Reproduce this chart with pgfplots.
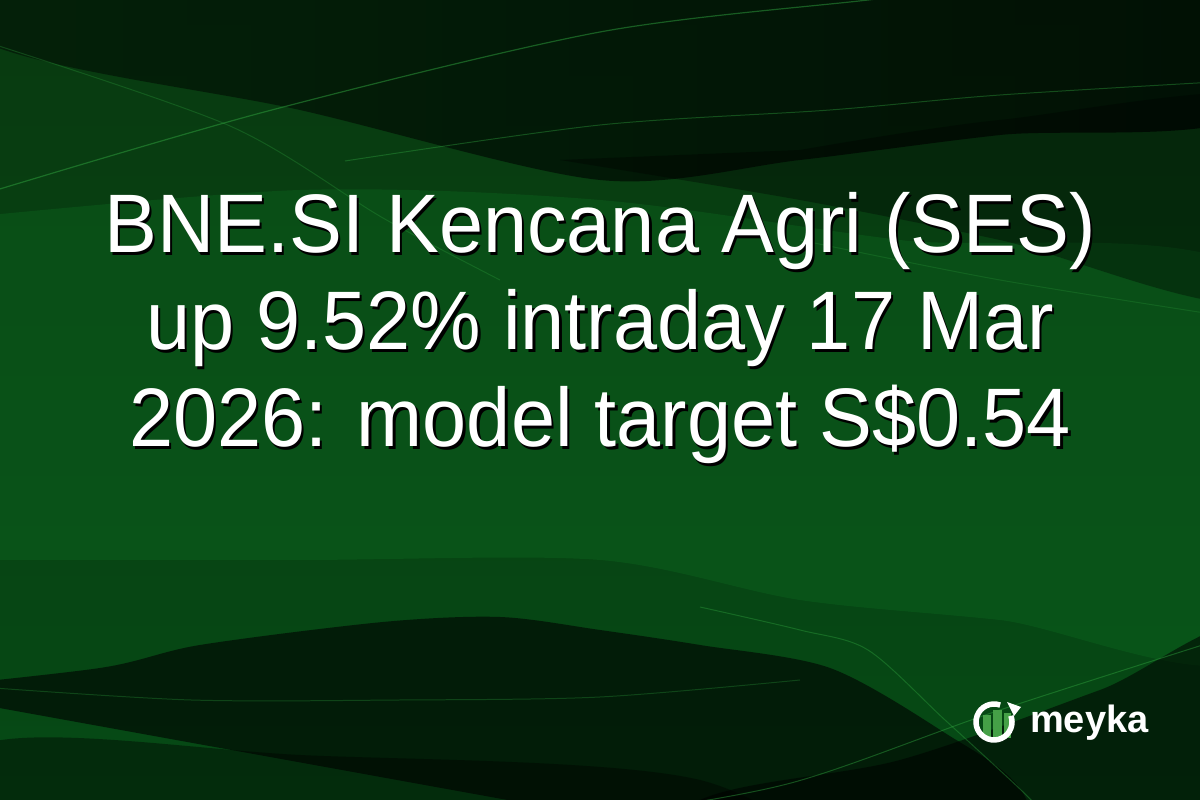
\documentclass[border=0pt]{standalone}
\usepackage{pgfplots}
\pgfplotsset{compat=1.18}
\usepackage{fontspec}
\setmainfont{Liberation Sans}
\newfontfamily\titlefont{Liberation Sans}[FakeStretch=0.955]
\newfontfamily\logofont{Liberation Sans Bold}

\definecolor{bgtop}{HTML}{083A10}
\definecolor{bgmid}{HTML}{085C19}
\definecolor{bgbot}{HTML}{064A15}
\definecolor{glow}{HTML}{0E7424}
\definecolor{darkl}{HTML}{041E08}
\definecolor{darkr}{HTML}{000803}
\definecolor{wave}{HTML}{2FA23E}
\definecolor{logogreen}{HTML}{45A047}

\tikzset{title/.style={anchor=base, inner sep=0pt, font=\titlefont\fontsize{83bp}{97bp}\selectfont}}

\begin{document}
\begin{tikzpicture}
\begin{axis}[
    width=1200bp, height=800bp,
    scale only axis,
    xmin=0, xmax=1200,
    ymin=0, ymax=800,
    hide axis,
    clip=true,
]

% background
\addplot[draw=none, top color=bgtop, middle color=bgmid, bottom color=bgbot]
    coordinates {(0,0)(1200,0)(1200,800)(0,800)} -- cycle;

% brighter band across the middle
\addplot[draw=none, fill=glow, fill opacity=0.3, smooth]
    coordinates {(-60,580)(300,610)(600,600)(900,560)(1260,520)
                 (1260,150)(1000,180)(800,200)(600,240)(300,240)(-60,240)} -- cycle;

% dark swoosh at the top
\addplot[draw=none, left color=darkl, right color=darkr, fill opacity=0.85, smooth]
    coordinates {(-100,900)(-20,760)(300,690)(600,620)(800,640)(1000,665)(1260,690)(1300,900)} -- cycle;
\addplot[draw=none, fill=black, fill opacity=0.35, smooth]
    coordinates {(560,640)(800,600)(1000,560)(1260,500)(1300,700)(1000,680)(800,650)} -- cycle;

% dark swoosh at the bottom
\addplot[draw=none, fill=black, fill opacity=0.6, smooth]
    coordinates {(-100,110)(100,132)(200,155)(383,178)(500,183)(600,170)(700,155)
                 (830,132)(945,67)(1021,10)(1060,-100)} -- cycle;
\addplot[draw=none, fill=black, fill opacity=0.55, smooth]
    coordinates {(600,-100)(700,0)(900,40)(1100,110)(1260,170)(1300,-100)} -- cycle;
\addplot[draw=none, fill=black, fill opacity=0.4, smooth]
    coordinates {(-100,-100)(-20,55)(300,45)(700,20)(900,-100)} -- cycle;

% thin light lines
\addplot[wave, opacity=0.5, line width=1.2pt, smooth]
    coordinates {(-20,605)(268,689)(600,768)(868,800)(1000,815)};
\addplot[wave, opacity=0.3, line width=1pt, smooth]
    coordinates {(-20,760)(230,674)(383,582)(500,520)};
\addplot[wave, opacity=0.4, line width=1pt, smooth]
    coordinates {(345,639)(600,675)(830,690)(1000,705)(1250,720)};
\addplot[wave, opacity=0.4, line width=1pt, smooth]
    coordinates {(700,193)(800,170)(868,150)(945,80)(1021,10)(1060,-30)};
\addplot[wave, opacity=0.45, line width=1pt, smooth]
    coordinates {(500,-30)(600,-17)(791,17)(1000,90)(1250,170)};
\addplot[wave, opacity=0.3, line width=1pt, smooth]
    coordinates {(-20,113)(191,100)(400,100)(600,103)(800,120)};
\addplot[wave, opacity=0.25, line width=1pt, smooth]
    coordinates {(800,560)(1000,520)(1250,480)};

% title: shadow first, then white text
\node[title, text=black] at (axis cs:602.5,544.5) {BNE.SI Kencana Agri (SES)};
\node[title, text=black] at (axis cs:602.5,447.5) {up 9.52\% intraday 17 Mar};
\node[title, text=black] at (axis cs:602.5,350.5) {2026: model target S\$0.54};
\node[title, text=white] at (axis cs:600,547) {BNE.SI Kencana Agri (SES)};
\node[title, text=white] at (axis cs:600,450) {up 9.52\% intraday 17 Mar};
\node[title, text=white] at (axis cs:600,353) {2026: model target S\$0.54};

% logo
\addplot[draw=none, fill=logogreen] coordinates {(983,62)(991,62)(991,85)(983,85)} -- cycle;
\addplot[draw=none, fill=logogreen] coordinates {(993,60)(1002,60)(1002,90)(993,90)} -- cycle;
\addplot[draw=none, fill=logogreen] coordinates {(1004,62)(1011,62)(1011,87)(1004,87)} -- cycle;
\draw[white, line width=5.5bp] (axis cs:994,78) ++(70:18bp) arc[start angle=70, end angle=380, radius=18bp];
\fill[white] (axis cs:1007,98) -- (axis cs:1021,93) -- (axis cs:1014,84) -- cycle;
\node[anchor=base west, text=white, inner sep=0pt, font=\logofont\fontsize{38bp}{40bp}\selectfont]
    at (axis cs:1030,67) {meyka};
\end{axis}
\pgfresetboundingbox
\useasboundingbox (current axis.south west) rectangle (current axis.north east);
\end{tikzpicture}
\end{document}
